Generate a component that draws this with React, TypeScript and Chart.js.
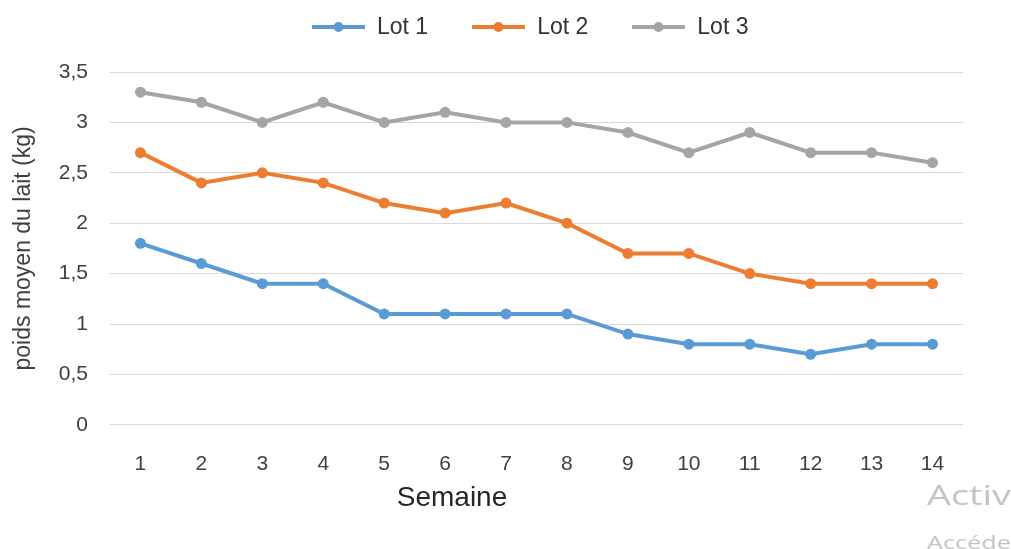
import React, { useEffect, useRef } from "react";
import { Chart, registerables } from "chart.js";

Chart.register(...registerables);

const weeks = ["1", "2", "3", "4", "5", "6", "7", "8", "9", "10", "11", "12", "13", "14"];
const lot1 = [1.8, 1.6, 1.4, 1.4, 1.1, 1.1, 1.1, 1.1, 0.9, 0.8, 0.8, 0.7, 0.8, 0.8];
const lot2 = [2.7, 2.4, 2.5, 2.4, 2.2, 2.1, 2.2, 2.0, 1.7, 1.7, 1.5, 1.4, 1.4, 1.4];
const lot3 = [3.3, 3.2, 3.0, 3.2, 3.0, 3.1, 3.0, 3.0, 2.9, 2.7, 2.9, 2.7, 2.7, 2.6];
const seriesNames = ["Lot 1", "Lot 2", "Lot 3"];
const seriesColors = ["#5B9BD5", "#ED7D31", "#A5A5A5"];
const yMin = 0;
const yMax = 3.5;
const yStep = 0.5;
const xTitle = "Semaine";
const yTitle = "poids moyen du lait (kg)";
const watermark1 = "Activer Windows";
const watermark2 = "Accédez aux paramètres pour activer Windows.";

const FONT = "'Liberation Sans', Arial, sans-serif";

export default function App() {
  const canvasRef = useRef<HTMLCanvasElement | null>(null);

  useEffect(() => {
    const canvas = canvasRef.current;
    if (!canvas) return;
    const seriesValues = [lot1, lot2, lot3];
    const chart = new Chart(canvas, {
      type: "line",
      data: {
        labels: weeks,
        datasets: seriesValues.map((vals, i) => ({
          label: seriesNames[i],
          data: vals,
          borderColor: seriesColors[i],
          backgroundColor: seriesColors[i],
          pointBackgroundColor: seriesColors[i],
          pointBorderColor: seriesColors[i],
          borderWidth: 4,
          pointRadius: 5.5,
          pointBorderWidth: 0,
          tension: 0,
          fill: false,
        })),
      },
      options: {
        responsive: false,
        animation: false,
        layout: { padding: { top: 72, left: 7, right: 48, bottom: 45 } },
        plugins: {
          legend: { display: false },
          tooltip: { enabled: false },
        },
        scales: {
          x: {
            offset: true,
            grid: { display: false, drawTicks: false },
            border: { display: false },
            ticks: {
              color: "#404040",
              font: { family: FONT, size: 21 },
              padding: 27,
              autoSkip: false,
              maxRotation: 0,
            },
          },
          y: {
            min: yMin,
            max: yMax,
            grid: { color: "#d9d9d9", lineWidth: 1, drawTicks: false },
            border: { display: false },
            afterFit: (scale: any) => {
              scale.width = 103;
            },
            ticks: {
              stepSize: yStep,
              color: "#404040",
              font: { family: FONT, size: 21 },
              padding: 22,
              callback: (v: any) => String(v).replace(".", ","),
            },
            title: {
              display: true,
              text: yTitle,
              color: "#404040",
              font: { family: FONT, size: 23 },
              padding: { top: 3, bottom: 4 },
            },
          },
        },
      },
    });
    return () => chart.destroy();
  }, []);

  return (
    <div
      style={{
        position: "absolute",
        left: 0,
        top: 0,
        width: 1011,
        height: 549,
        overflow: "hidden",
        background: "#ffffff",
        fontFamily: FONT,
      }}
    >
      <canvas ref={canvasRef} width={1011} height={549} style={{ position: "absolute", left: 0, top: 0 }} />
      <div
        style={{
          position: "absolute",
          left: 312,
          top: 15,
          display: "flex",
          alignItems: "center",
          gap: 44,
          fontSize: 23,
          lineHeight: "23px",
          color: "#333333",
          whiteSpace: "nowrap",
        }}
      >
        {seriesNames.map((name, i) => (
          <div key={name} style={{ display: "flex", alignItems: "center", gap: 12 }}>
            <svg width={53} height={12} style={{ display: "block" }}>
              <line x1={0} y1={6} x2={53} y2={6} stroke={seriesColors[i]} strokeWidth={4} />
              <circle cx={26.5} cy={6} r={5} fill={seriesColors[i]} />
            </svg>
            <span>{name}</span>
          </div>
        ))}
      </div>
      <div
        style={{
          position: "absolute",
          left: 452,
          top: 483,
          transform: "translateX(-50%)",
          fontSize: 28,
          lineHeight: "28px",
          color: "#262626",
          whiteSpace: "nowrap",
        }}
      >
        {xTitle}
      </div>
      <div
        style={{
          position: "absolute",
          left: 927,
          top: 477,
          fontFamily: "'Open Sans', 'Noto Sans', sans-serif",
          fontSize: 28,
          lineHeight: "34px",
          color: "#c4c4c4",
          whiteSpace: "nowrap",
          transform: "scaleX(1.35)",
          transformOrigin: "left top",
        }}
      >
        {watermark1}
      </div>
      <div
        style={{
          position: "absolute",
          left: 927,
          top: 530,
          fontFamily: "'Open Sans', 'Noto Sans', sans-serif",
          fontSize: 18,
          lineHeight: "24px",
          color: "#c4c4c4",
          whiteSpace: "nowrap",
          transform: "scaleX(1.4)",
          transformOrigin: "left top",
        }}
      >
        {watermark2}
      </div>
    </div>
  );
}
